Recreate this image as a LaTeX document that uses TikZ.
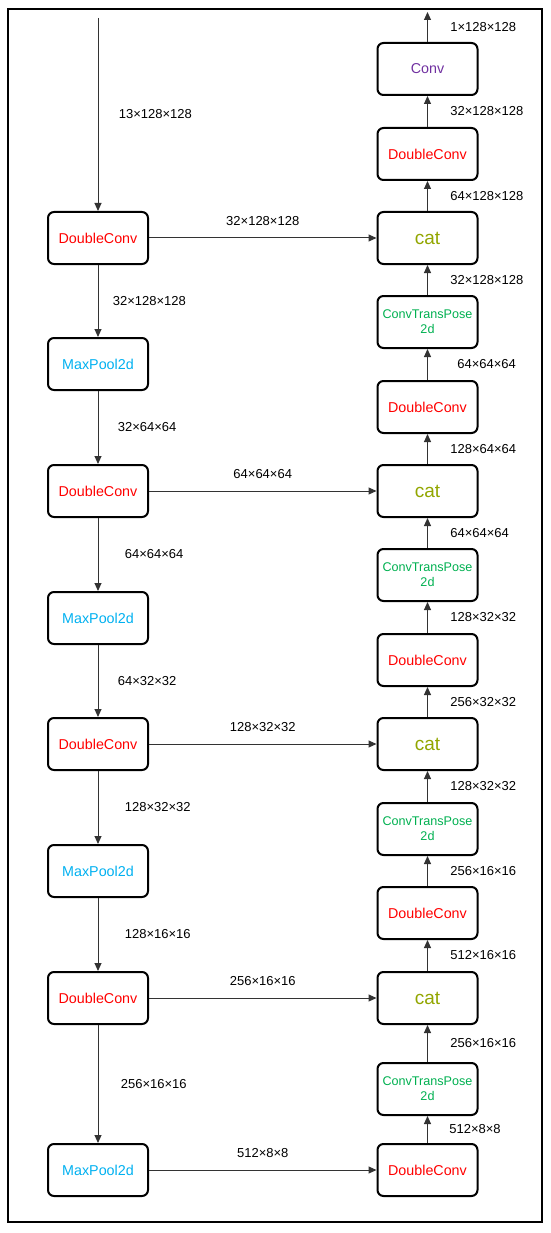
\documentclass[tikz,border=0pt]{standalone}
\usepackage{fontspec}
\setmainfont{Liberation Sans}
\usetikzlibrary{arrows.meta}

\definecolor{dcred}{RGB}{255,0,0}
\definecolor{mpblue}{RGB}{0,176,240}
\definecolor{catolive}{RGB}{146,166,0}
\definecolor{upgreen}{RGB}{0,176,80}
\definecolor{cvpurple}{RGB}{112,48,160}

\tikzset{
  blk/.style={draw, line width=2pt, rounded corners=6pt, minimum width=100pt,
    minimum height=52pt, inner sep=0pt, align=center, font=\fontsize{14.3}{17}\selectfont},
  dc/.style={blk, text=dcred},
  mp/.style={blk, text=mpblue},
  cat/.style={blk, text=catolive, font=\fontsize{19}{22}\selectfont},
  up/.style={blk, text=upgreen, font=\fontsize{12.6}{15}\selectfont},
  arr/.style={draw=black!80, line width=1pt, -{Triangle[length=8pt,width=7pt]}},
  dim/.style={font=\fontsize{13}{15}\selectfont, text=black}
}

\begin{document}
\begin{tikzpicture}[x=1pt, y=-1pt]
  \useasboundingbox (0,0) rectangle (550,1233);
  % Rahmen
  \draw[line width=1.8pt] (8,9) rectangle (542,1222);

  % linke Spalte: Encoder
  \node[dc] (dcA) at (98,238) {DoubleConv};
  \node[mp] (mpA) at (98,364) {MaxPool2d};
  \node[dc] (dcB) at (98,491) {DoubleConv};
  \node[mp] (mpB) at (98,618) {MaxPool2d};
  \node[dc] (dcC) at (98,744) {DoubleConv};
  \node[mp] (mpC) at (98,871) {MaxPool2d};
  \node[dc] (dcD) at (98,998) {DoubleConv};
  \node[mp] (mpD) at (98,1170) {MaxPool2d};

  % rechte Spalte: Decoder
  \node[dc] (bot) at (427.5,1170) {DoubleConv};
  \node[up] (upD) at (427.5,1089) {ConvTransPose\\2d};
  \node[cat] (catD) at (427.5,998) {cat};
  \node[dc] (ucD) at (427.5,913) {DoubleConv};
  \node[up] (upC) at (427.5,829) {ConvTransPose\\2d};
  \node[cat] (catC) at (427.5,744) {cat};
  \node[dc] (ucC) at (427.5,660) {DoubleConv};
  \node[up] (upB) at (427.5,575) {ConvTransPose\\2d};
  \node[cat] (catB) at (427.5,491) {cat};
  \node[dc] (ucB) at (427.5,407) {DoubleConv};
  \node[up] (upA) at (427.5,322) {ConvTransPose\\2d};
  \node[cat] (catA) at (427.5,238) {cat};
  \node[dc] (ucA) at (427.5,154) {DoubleConv};
  \node[blk, text=cvpurple] (conv) at (427.5,69) {Conv};

  \coordinate (inp) at (98,18);
  \coordinate (outp) at (427.5,12);

  % Encoder-Pfeile
  \draw[arr] (inp) -- node[dim, right=17pt] {13×128×128} (dcA);
  \draw[arr] (dcA) -- node[dim, right=11pt] {32×128×128} (mpA);
  \draw[arr] (mpA) -- node[dim, right=16pt] {32×64×64} (dcB);
  \draw[arr] (dcB) -- node[dim, right=23pt] {64×64×64} (mpB);
  \draw[arr] (mpB) -- node[dim, right=16pt] {64×32×32} (dcC);
  \draw[arr] (dcC) -- node[dim, right=23pt] {128×32×32} (mpC);
  \draw[arr] (mpC) -- node[dim, right=23pt] {128×16×16} (dcD);
  \draw[arr] (dcD) -- node[dim, right=19pt] {256×16×16} (mpD);

  % Skip-Verbindungen
  \draw[arr] (dcA) -- node[dim, above=9pt] {32×128×128} (catA);
  \draw[arr] (dcB) -- node[dim, above=9pt] {64×64×64} (catB);
  \draw[arr] (dcC) -- node[dim, above=9pt] {128×32×32} (catC);
  \draw[arr] (dcD) -- node[dim, above=9pt] {256×16×16} (catD);
  \draw[arr] (mpD) -- node[dim, above=9pt] {512×8×8} (bot);

  % Decoder-Pfeile
  \draw[arr] (bot) -- node[dim, right=18pt] {512×8×8} (upD);
  \draw[arr] (upD) -- node[dim, right=19pt] {256×16×16} (catD);
  \draw[arr] (catD) -- node[dim, right=19pt] {512×16×16} (ucD);
  \draw[arr] (ucD) -- node[dim, right=19pt] {256×16×16} (upC);
  \draw[arr] (upC) -- node[dim, right=19pt] {128×32×32} (catC);
  \draw[arr] (catC) -- node[dim, right=19pt] {256×32×32} (ucC);
  \draw[arr] (ucC) -- node[dim, right=19pt] {128×32×32} (upB);
  \draw[arr] (upB) -- node[dim, right=19pt] {64×64×64} (catB);
  \draw[arr] (catB) -- node[dim, right=19pt] {128×64×64} (ucB);
  \draw[arr] (ucB) -- node[dim, right=26pt] {64×64×64} (upA);
  \draw[arr] (upA) -- node[dim, right=19pt] {32×128×128} (catA);
  \draw[arr] (catA) -- node[dim, right=19pt] {64×128×128} (ucA);
  \draw[arr] (ucA) -- node[dim, right=19pt] {32×128×128} (conv);
  \draw[arr] (conv) -- node[dim, right=19pt] {1×128×128} (outp);
\end{tikzpicture}
\end{document}
